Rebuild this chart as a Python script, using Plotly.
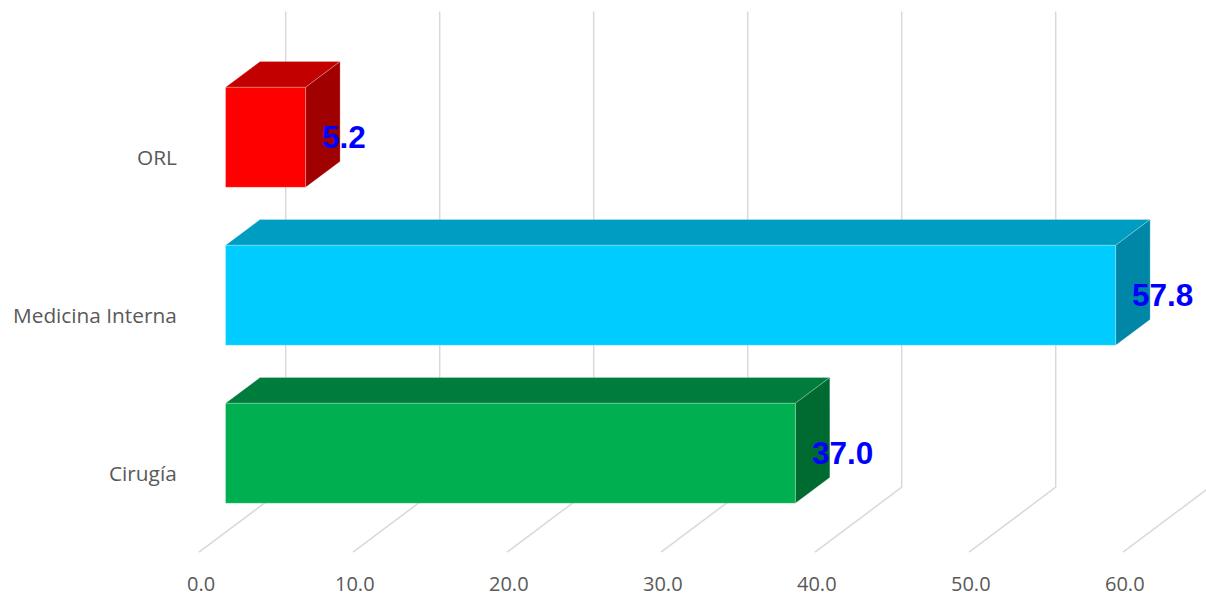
import plotly.graph_objects as go

# ---- data ----
categories = ["Cirugía", "Medicina Interna", "ORL"]
values = [37.0, 57.8, 5.2]
front_colors = ["#00B050", "#00CCFF", "#FF0000"]
top_colors = ["#007D3C", "#009DC3", "#C20000"]
side_colors = ["#006B31", "#0086A6", "#A00000"]
tick_values = [0, 10, 20, 30, 40, 50, 60]
tick_labels = ["0.0", "10.0", "20.0", "30.0", "40.0", "50.0", "60.0"]

# ---- oblique 3D projection parameters (pixels) ----
W, H = 1206, 597
PX_PER_UNIT = 15.4      # horizontal pixels per value unit
PX_PER_CAT = 158.0      # vertical pixels per category step
DEPTH_DX = 86.7         # full depth offset, x (pixels)
DEPTH_DY = 65.0         # full depth offset, y (pixels, upwards)
ORIGIN_X = 199.0        # pixel x of value 0 on the front plane
ORIGIN_Y = 473.2        # pixel y of first category on the front plane

dxu = DEPTH_DX / PX_PER_UNIT
dyu = DEPTH_DY / PX_PER_CAT
T_FRONT, T_BACK = 0.306, 0.704
HALF = 50.0 / PX_PER_CAT
C_MIN, C_MAX = -0.5, len(categories) - 0.5


def proj(v, c, t):
    return v + dxu * t, c + dyu * t


def poly(points):
    xs, ys = zip(*[proj(*p) for p in points])
    return list(xs) + [xs[0]], list(ys) + [ys[0]]


fig = go.Figure()
grid_color = "#D9D9D9"

# floor and back-wall gridlines
for v in tick_values:
    pts = [proj(v, C_MIN, 0), proj(v, C_MIN, 1), proj(v, C_MAX + 0.01, 1)]
    fig.add_trace(go.Scatter(
        x=[p[0] for p in pts], y=[p[1] for p in pts], mode="lines",
        line=dict(color=grid_color, width=1.5), hoverinfo="skip", showlegend=False))

# 3D bars
edge = dict(color="rgba(255,255,255,0.3)", width=0.8)
for i, (cat, v) in enumerate(zip(categories, values)):
    c = i
    lo, hi = c - HALF, c + HALF
    top = poly([(0, hi, T_FRONT), (v, hi, T_FRONT), (v, hi, T_BACK), (0, hi, T_BACK)])
    side = poly([(v, lo, T_FRONT), (v, lo, T_BACK), (v, hi, T_BACK), (v, hi, T_FRONT)])
    front = poly([(0, lo, T_FRONT), (v, lo, T_FRONT), (v, hi, T_FRONT), (0, hi, T_FRONT)])
    for (xs, ys), col in ((top, top_colors[i]), (side, side_colors[i]), (front, front_colors[i])):
        fig.add_trace(go.Scatter(
            x=xs, y=ys, mode="lines", fill="toself", fillcolor=col,
            line=edge, hoverinfo="skip", showlegend=False))

    # value label at mid-depth of the bar end
    lx, _ = proj(v, c, (T_FRONT + T_BACK) / 2)
    _, ly = proj(v, c, T_FRONT)
    fig.add_annotation(
        x=lx, y=ly, text=f"<b>{v:.1f}</b>", showarrow=False,
        xanchor="left", yanchor="middle", borderpad=0, xshift=-2,
        font=dict(family="Liberation Sans, Arial", size=31.5, color="#0000FF"))

    # category label on the front plane
    fig.add_annotation(
        x=proj(0, c, 0)[0], y=proj(0, c, 0)[1], text=cat, showarrow=False,
        xanchor="right", yanchor="middle", xshift=-20,
        font=dict(family="Open Sans", size=20.8, color="#595959"))

# value axis tick labels along the front floor edge
for v, lab in zip(tick_values, tick_labels):
    fx, fy = proj(v, C_MIN, 0)
    fig.add_annotation(
        x=fx, y=fy, text=lab, showarrow=False,
        xanchor="center", yanchor="middle", yshift=-31, xshift=1.5,
        font=dict(family="Open Sans", size=20, color="#595959"))

fig.update_layout(
    width=W, height=H,
    margin=dict(l=0, r=0, t=0, b=0),
    paper_bgcolor="white", plot_bgcolor="white",
    xaxis=dict(visible=False, range=[-ORIGIN_X / PX_PER_UNIT, (W - ORIGIN_X) / PX_PER_UNIT], fixedrange=True),
    yaxis=dict(visible=False, range=[(ORIGIN_Y - H) / PX_PER_CAT, ORIGIN_Y / PX_PER_CAT], fixedrange=True),
)

fig.write_html("out.html")
